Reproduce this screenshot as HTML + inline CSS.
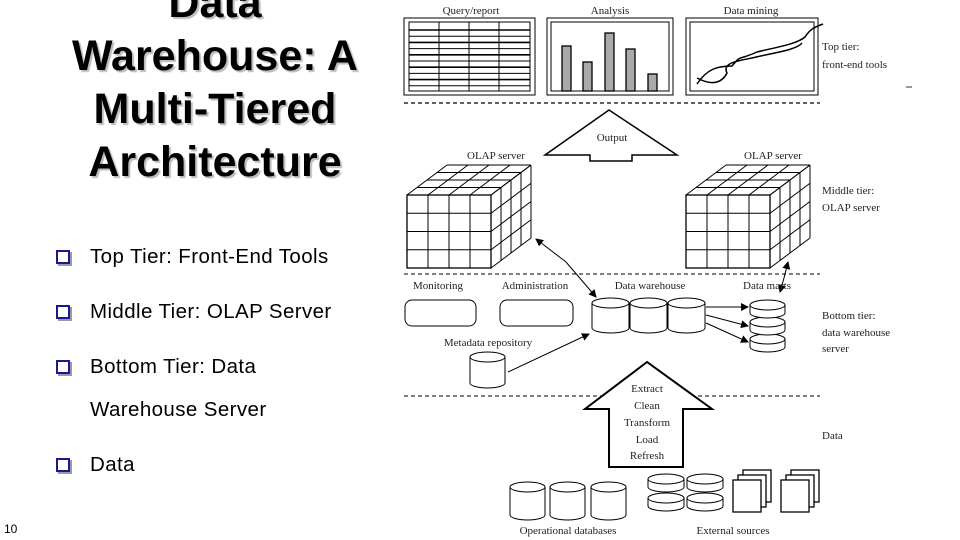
<!DOCTYPE html>
<html><head><meta charset="utf-8"><style>
html,body{margin:0;padding:0;background:#fff;}
#w{position:relative;width:960px;height:540px;overflow:hidden;font-family:"Liberation Sans",sans-serif;}
.t{position:absolute;left:0;width:430px;text-align:center;font-weight:bold;font-size:43px;line-height:53px;color:#000;text-shadow:2px 2px 1px #bbb;}
.b{position:absolute;left:90px;font-size:20.5px;letter-spacing:0.4px;color:#000;}
.q{position:absolute;left:56px;width:10px;height:10px;border:2px solid #1a1a8c;box-shadow:2px 2px 0 #99a;}
</style></head><body><div id="w">
<div class="t" style="top:-23px">Data<br>Warehouse: A<br>Multi-Tiered<br>Architecture</div>
<div class="q" style="top:250px"></div><div class="b" style="top:245px">Top Tier: Front-End Tools</div>
<div class="q" style="top:305px"></div><div class="b" style="top:300px">Middle Tier: OLAP Server</div>
<div class="q" style="top:360px"></div><div class="b" style="top:355px">Bottom Tier: Data</div>
<div class="b" style="top:398px">Warehouse Server</div>
<div class="q" style="top:458px"></div><div class="b" style="top:453px">Data</div>
<div style="position:absolute;left:4px;top:522px;font-size:12px;">10</div>
<svg id="s" width="960" height="540" style="position:absolute;left:0;top:0" font-family="Liberation Serif,serif" font-size="11">
<defs><marker id="a" markerWidth="8" markerHeight="8" refX="7" refY="4" orient="auto" markerUnits="userSpaceOnUse"><path d="M0,0L8,4L0,8z" fill="#000"/></marker></defs>
<g stroke="#000" fill="none">
<line x1="404" y1="103" x2="820" y2="103" stroke-dasharray="4,3" stroke-width="1.3"/>
<line x1="404" y1="274" x2="820" y2="274" stroke-dasharray="4,3"/>
<line x1="404" y1="396" x2="820" y2="396" stroke-dasharray="4,3"/>
<rect x="404" y="18" width="131" height="77"/><rect x="409" y="22" width="121" height="69"/>
<rect x="547" y="18" width="126" height="77"/><rect x="551" y="22" width="118" height="69"/>
<rect x="686" y="18" width="132" height="77"/><rect x="690" y="22" width="124" height="69"/>
<path d="M697,84c10,-15 20,-18 35,-18c10,-12 5,-5 25,-14c20,-5 40,-8 48,-15c5,-8 10,-10 18,-13M697,78c15,8 25,5 30,-5c-5,-10 10,-12 25,-15c20,-5 45,-8 50,-15" stroke-width="1.5"/>
<path d="M609,110L545,155L590,155L590,161L632,161L632,155L677,155Z" stroke-width="1.5" fill="#fff"/>
<path d="M647,362L585,409L609,409L609,467L683,467L683,409L712,409Z" stroke-width="2" fill="#fff"/>
<rect x="405" y="300" width="71" height="26" rx="7"/><rect x="500" y="300" width="73" height="26" rx="7"/>
<line x1="508" y1="372" x2="589" y2="334" marker-end="url(#a)"/>
<line x1="706" y1="307" x2="748" y2="307" marker-end="url(#a)"/>
<line x1="706" y1="315" x2="748" y2="326" marker-end="url(#a)"/>
<line x1="706" y1="323" x2="748" y2="342" marker-end="url(#a)"/>
<line x1="566" y1="262" x2="536" y2="239" marker-end="url(#a)"/>
<line x1="566" y1="262" x2="596" y2="297" marker-end="url(#a)"/>
<line x1="784" y1="278" x2="788" y2="262" marker-end="url(#a)"/>
<line x1="784" y1="278" x2="780" y2="292" marker-end="url(#a)"/>
<g id="dyn"></g>
</g>
<g text-anchor="middle" fill="#222">
<text x="471" y="14">Query/report</text><text x="610" y="14">Analysis</text><text x="751" y="14">Data mining</text>
<text x="496" y="159">OLAP server</text><text x="773" y="159">OLAP server</text>
<text x="438" y="289">Monitoring</text><text x="535" y="289">Administration</text><text x="650" y="289">Data warehouse</text><text x="767" y="289">Data marts</text>
<text x="488" y="346">Metadata repository</text>
<text x="568" y="534">Operational databases</text><text x="733" y="534">External sources</text>
<text x="612" y="141">Output</text>
<text x="647" y="392">Extract</text><text x="647" y="409">Clean</text><text x="647" y="426">Transform</text><text x="647" y="443">Load</text><text x="647" y="459">Refresh</text>
</g>
<g fill="#222"><text x="822" y="50">Top tier:</text><text x="822" y="68">front-end tools</text>
<text x="822" y="194">Middle tier:</text><text x="822" y="211">OLAP server</text>
<text x="822" y="319">Bottom tier:</text><text x="822" y="336">data warehouse</text><text x="822" y="352">server</text>
<text x="822" y="439">Data</text></g>
<line x1="906" y1="87" x2="912" y2="87" stroke="#333"/>
</svg>
<script>
var g=document.getElementById('dyn'),h='';
function L(a,b,c,d,w){h+='<line x1="'+a+'" y1="'+b+'" x2="'+c+'" y2="'+d+'"'+(w?' stroke-width="'+w+'"':'')+'/>';}
for(var i=0;i<10;i++){var y=30+i*6.2;L(409,y,530,y,i%2?1:1.6);}
for(var i=1;i<4;i++){var x=409+i*30;L(x,22,x,91);}
var bars=[[562,46],[583,62],[605,33],[626,49],[648,74]];
bars.forEach(function(b){h+='<rect x="'+b[0]+'" y="'+b[1]+'" width="9" height="'+(91-b[1])+'" fill="#aaa" stroke-width="1.3"/>';});
function cube(x0){var y0=195,w=84,hh=73,dx=40,dy=-30;
for(var k=0;k<=4;k++){var ox=dx*k/4,oy=dy*k/4;
 L(x0+ox,y0+oy,x0+w+ox,y0+oy); L(x0+w+ox,y0+oy,x0+w+ox,y0+hh+oy);}
for(var i=0;i<=4;i++){var x=x0+w*i/4,y=y0+hh*i/4;
 L(x,y0,x+dx,y0+dy); L(x0+w,y,x0+w+dx,y+dy);}
h+='<rect x="'+x0+'" y="'+y0+'" width="'+w+'" height="'+hh+'" fill="#fff" stroke-width="1.3"/>';
for(var i=1;i<4;i++){L(x0+w*i/4,y0,x0+w*i/4,y0+hh);L(x0,y0+hh*i/4,x0+w,y0+hh*i/4);}
}
cube(407);cube(686);
function cyl(x,y,w,ht){var r=w/2,e=5;
h+='<path d="M'+x+','+(y+e)+'L'+x+','+(y+ht-e)+'A'+r+','+e+' 0 0 0 '+(x+w)+','+(y+ht-e)+'L'+(x+w)+','+(y+e)+'A'+r+','+e+' 0 0 0 '+x+','+(y+e)+'A'+r+','+e+' 0 0 0 '+(x+w)+','+(y+e)+'" fill="#fff"/>';}
cyl(592,298,37,35);cyl(630,298,37,35);cyl(668,298,37,35);
cyl(750,334,35,18);cyl(750,317,35,18);cyl(750,300,35,18);
cyl(470,352,35,36);
cyl(510,482,35,38);cyl(550,482,35,38);cyl(591,482,35,38);
cyl(648,493,36,18);cyl(687,493,36,18);cyl(648,474,36,18);cyl(687,474,36,18);
function docs(x,y){for(var i=2;i>=0;i--){h+='<rect x="'+(x+i*5)+'" y="'+(y-i*5)+'" width="28" height="32" fill="#fff" stroke-width="1.3"/>';}}
docs(733,480);docs(781,480);
g.innerHTML=h;
</script>
</div></body></html>
